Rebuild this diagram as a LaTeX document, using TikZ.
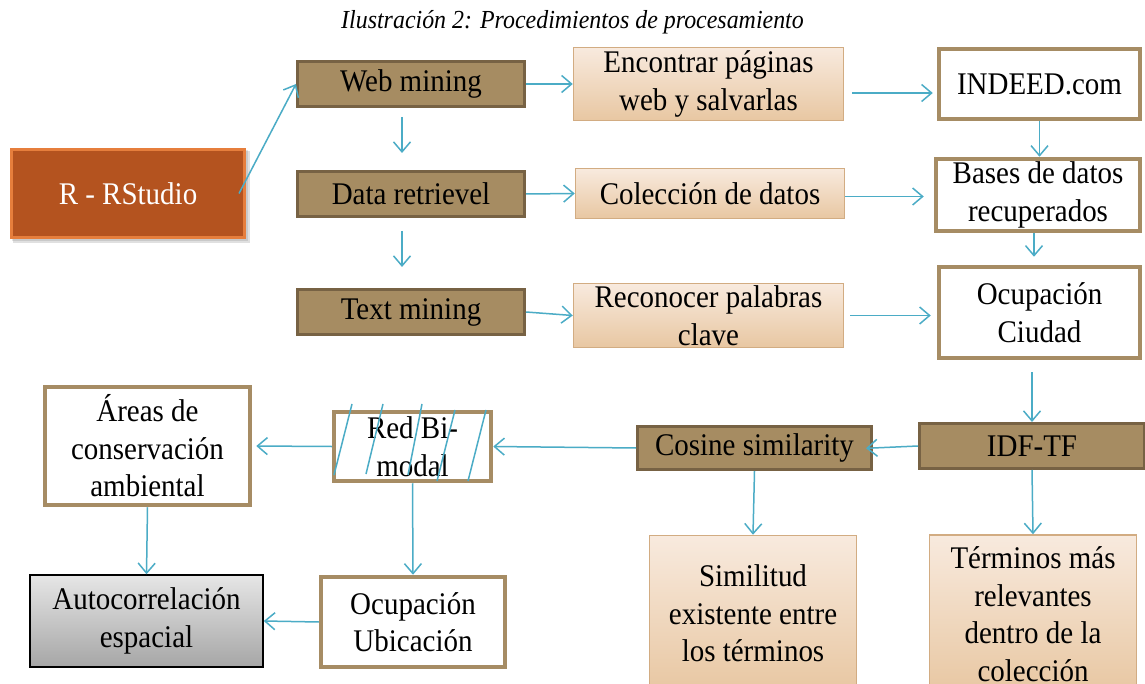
\documentclass[tikz,border=0pt]{standalone}
\usepackage{fontspec}
\setmainfont{Liberation Serif}[FakeStretch=0.92]
\usetikzlibrary{arrows.meta,calc}
\definecolor{teal4}{HTML}{4BACC6}
\definecolor{brownfill}{HTML}{A68C62}
\definecolor{brownedge}{HTML}{776244}
\definecolor{tanedge}{HTML}{A68C64}
\definecolor{peachtop}{HTML}{F8EADE}
\definecolor{peachbot}{HTML}{E8C7A2}
\definecolor{peachedge}{HTML}{D2AC82}
\definecolor{rfill}{HTML}{B4531F}
\definecolor{redge}{HTML}{E67E3C}
\definecolor{graytop}{HTML}{E6E6E6}
\definecolor{graybot}{HTML}{A6A6A6}
\begin{document}
\begin{tikzpicture}[x=1pt,y=-1pt,
  base/.style={inner sep=0pt, align=center, font=\fontsize{31.5}{37.5}\selectfont, text=black},
  brownbox/.style={base, draw=brownedge, line width=3pt, fill=brownfill},
  peachbox/.style={base, draw=peachedge, line width=1.5pt, top color=peachtop, bottom color=peachbot},
  whitebox/.style={base, draw=tanedge, line width=4.5pt, fill=white},
  arr/.style={draw=teal4, line width=1.5pt, -{Straight Barb[length=10pt,width=17pt]}},
  hatch/.style={draw=teal4, line width=1.5pt},
]
\useasboundingbox (0,0) rectangle (1145,684);
\clip (0,0) rectangle (1145,684);
\fill[white] (0,0) rectangle (1145,684);

% title
\node[font=\fontsize{26}{30}\selectfont\itshape, inner sep=0pt] (title) at (572.5,22) {Ilustración 2: Procedimientos de procesamiento};

% left column
\fill[black, opacity=0.12] (13,151) rectangle (250,243);
\fill[black, opacity=0.10] (12,150) rectangle (248,241);
\node[base, draw=redge, line width=3pt, fill=rfill, text=white, minimum width=233pt, minimum height=88pt] (rstudio) at (128,193.5) {R - RStudio};

\node[brownbox, minimum width=227pt, minimum height=45pt] (web) at (411,84) {Web mining};
\node[brownbox, minimum width=227pt, minimum height=45pt] (data) at (411,194) {Data retrievel};
\node[brownbox, minimum width=227pt, minimum height=45pt] (text) at (411,312) {Text mining};

% middle column
\node[peachbox, minimum width=270pt, minimum height=73pt] (encontrar) at (708.5,84) {Encontrar páginas\\web y salvarlas};
\node[peachbox, minimum width=269pt, minimum height=50pt] (coleccion) at (710,193.5) {Colección de datos};
\node[peachbox, minimum width=270pt, minimum height=64pt] (reconocer) at (708.5,315.5) {Reconocer palabras\\clave};

% right column
\node[whitebox, minimum width=201pt, minimum height=70pt] (indeed) at (1039.5,84) {INDEED.com};
\node[whitebox, minimum width=204pt, minimum height=72pt] (bases) at (1038,195) {Bases de datos\\recuperados};
\node[whitebox, minimum width=201pt, minimum height=91pt] (ociudad) at (1039.5,312.5) {Ocupación\\Ciudad};

% lower rows
\node[brownbox, minimum width=225pt, minimum height=45pt] (idf) at (1032,446) {IDF-TF};
\node[brownbox, minimum width=234pt, minimum height=43pt] (cosine) at (754.5,448) {Cosine similarity};

\node[whitebox, minimum width=157pt, minimum height=69pt] (red) at (412.5,446.5) {Red Bi-\\modal};
\draw[hatch] (352,404) -- (334,475);
\draw[hatch] (383,404) -- (366,474);
\draw[hatch] (422,404) -- (408,475);
\draw[hatch] (455,410) -- (437,481);
\draw[hatch] (486,410) -- (468,481);

\node[whitebox, minimum width=205pt, minimum height=118pt] (areas) at (147.5,446) {Áreas de\\conservación\\ambiental};
\node[base, draw=black, line width=1.5pt, top color=graytop, bottom color=graybot, minimum width=233pt, minimum height=92pt] (autocorr) at (146.5,621) {Autocorrelación\\espacial};
\node[whitebox, minimum width=184pt, minimum height=90pt] (ubicacion) at (413,622) {Ocupación\\Ubicación};

\node[peachbox, minimum width=207pt, minimum height=156pt] (similitud) at (753,613.5) {Similitud\\existente entre\\los términos};
\node[peachbox, minimum width=207pt, minimum height=158pt] (terminos) at (1033,614) {Términos más\\relevantes\\dentro de la\\colección};

% connectors
\draw[arr] ([xshift=-7pt]rstudio.east) -- (web.west);
\draw[arr] (web.east) -- (encontrar.west);
\draw[arr] (data.east) -- (coleccion.west);
\draw[arr] (text.east) -- (reconocer.west);
\draw[arr, shorten <=9pt, shorten >=17pt] ([xshift=-9pt]web.south) -- ([xshift=-9pt]data.north);
\draw[arr, shorten <=13pt, shorten >=21pt] ([xshift=-9pt]data.south) -- ([xshift=-9pt]text.north);

\draw[arr, shorten <=8pt, shorten >=4pt] ([yshift=-9pt]encontrar.east) -- ([yshift=-9pt]encontrar.east -| indeed.west);
\draw[arr, shorten >=10pt] ([yshift=-3pt]coleccion.east) -- ([yshift=-3pt]coleccion.east -| bases.west);
\draw[arr, shorten <=6pt, shorten >=6pt] (reconocer.east) -- (reconocer.east -| ociudad.west);

\draw[arr] (indeed.south) -- (indeed.south |- bases.north);
\draw[arr, shorten >=8pt] ([xshift=-4pt]bases.south) -- ([xshift=-4pt]bases.south |- ociudad.north);
\draw[arr, shorten <=12pt] (idf.north |- ociudad.south) -- (idf.north);

\draw[arr, shorten >=-7pt] (idf.west) -- (cosine.east);
\draw[arr] (cosine.west) -- (red.east);
\draw[arr, shorten >=4pt] (red.west) -- (areas.east);
\draw[arr] (areas.south) -- (autocorr.north);
\draw[arr] (red.south) -- (ubicacion.north);
\draw[arr] (ubicacion.west) -- (autocorr.east);
\draw[arr] (cosine.south) -- (similitud.north);
\draw[arr] (idf.south) -- (terminos.north);
\end{tikzpicture}
\end{document}
